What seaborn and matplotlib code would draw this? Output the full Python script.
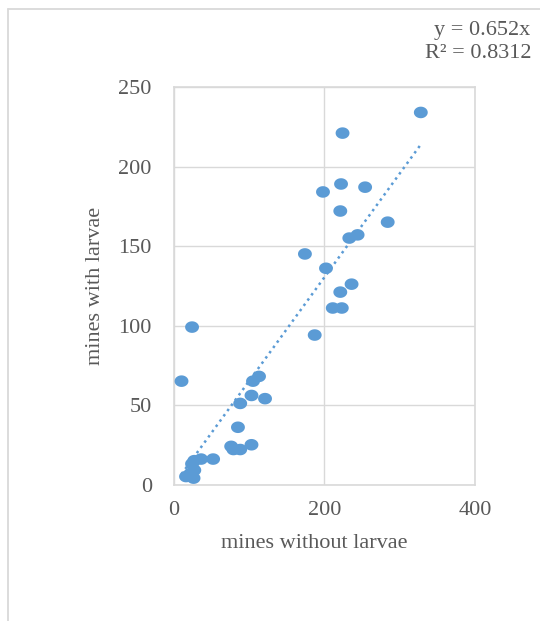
import numpy as np
import pandas as pd
import matplotlib.pyplot as plt
import seaborn as sns
from matplotlib.path import Path
from matplotlib.lines import Line2D

# Points
mines_without = [328, 224, 198, 222, 254, 221, 284, 233, 244, 174, 202, 236, 221, 211,
                 223, 187, 24, 10, 105, 113, 103, 121, 88, 85, 76, 79, 88, 103, 52, 36,
                 27, 24, 27, 16, 26, 22]
mines_with = [234, 221, 184, 189, 187, 172, 165, 155, 157, 145, 136, 126, 121, 111,
              111, 94, 99, 65, 65, 68, 56, 54, 51, 36, 24, 22, 22, 25, 16, 16,
              15, 13, 9, 5, 4, 7]
trend_slope = 0.652
r_squared = 0.8312

x_ticks = [0, 200, 400]
y_ticks = [0, 50, 100, 150, 200, 250]

blue = "#5B9BD5"
grey_text = "#595959"
grey_line = "#D9D9D9"

df = pd.DataFrame({"mines without larvae": mines_without, "mines with larvae": mines_with})

sns.set_theme(style="white")
plt.rcParams["font.family"] = ["Liberation Serif", "DejaVu Serif"]

fig = plt.figure(figsize=(5.4, 6.21), dpi=100)
ax = fig.add_axes([0.3222, 0.2198, 0.5574, 0.6401])

# slightly wide ellipse marker, like the original
t = np.linspace(0, 2 * np.pi, 40)
ellipse = Path(np.column_stack([1.2 * np.cos(t), np.sin(t)]), closed=True)

sns.scatterplot(data=df, x="mines without larvae", y="mines with larvae", ax=ax,
                marker=ellipse, s=100, color=blue, edgecolor="none", linewidth=0, zorder=3)

# dotted trendline through origin, over the data range
xs = np.array([min(mines_without), max(mines_without)])
ax.plot(xs, trend_slope * xs, color=blue, linestyle=(0, (1, 1.6)), lw=1.8, zorder=2)

ax.set_xlim(0, 400)
ax.set_ylim(0, 250)
ax.set_xticks(x_ticks)
ax.set_yticks(y_ticks)
ax.grid(True, color=grey_line, lw=1)
ax.set_axisbelow(True)
for sp in ax.spines.values():
    sp.set_color(grey_line)
    sp.set_linewidth(1.2)
ax.tick_params(axis="both", length=0, labelsize=16, colors=grey_text)
ax.tick_params(axis="y", pad=16)
ax.tick_params(axis="x", pad=12)
ax.set_xlabel("mines without larvae", fontsize=16, color=grey_text)
ax.set_ylabel("mines with larvae", fontsize=16, color=grey_text, labelpad=10)
ax.xaxis.set_label_coords(0.467, -0.125)

# equation text, top right
fig.text(0.982, 1 - 34.5 / 621, f"y = {trend_slope}x", ha="right", va="baseline",
         fontsize=16, color=grey_text)
fig.text(0.985, 1 - 57.5 / 621, f"R² = {r_squared}", ha="right", va="baseline",
         fontsize=16, color=grey_text)

# outer chart frame (only top and left show in the crop)
fig.add_artist(Line2D([8 / 540, 1], [1 - 8.5 / 621] * 2, transform=fig.transFigure,
                      color=grey_line, lw=1.3))
fig.add_artist(Line2D([8 / 540] * 2, [0, 1 - 8.5 / 621], transform=fig.transFigure,
                      color=grey_line, lw=1.3))

fig.savefig("out.png", dpi=100, facecolor="white")
